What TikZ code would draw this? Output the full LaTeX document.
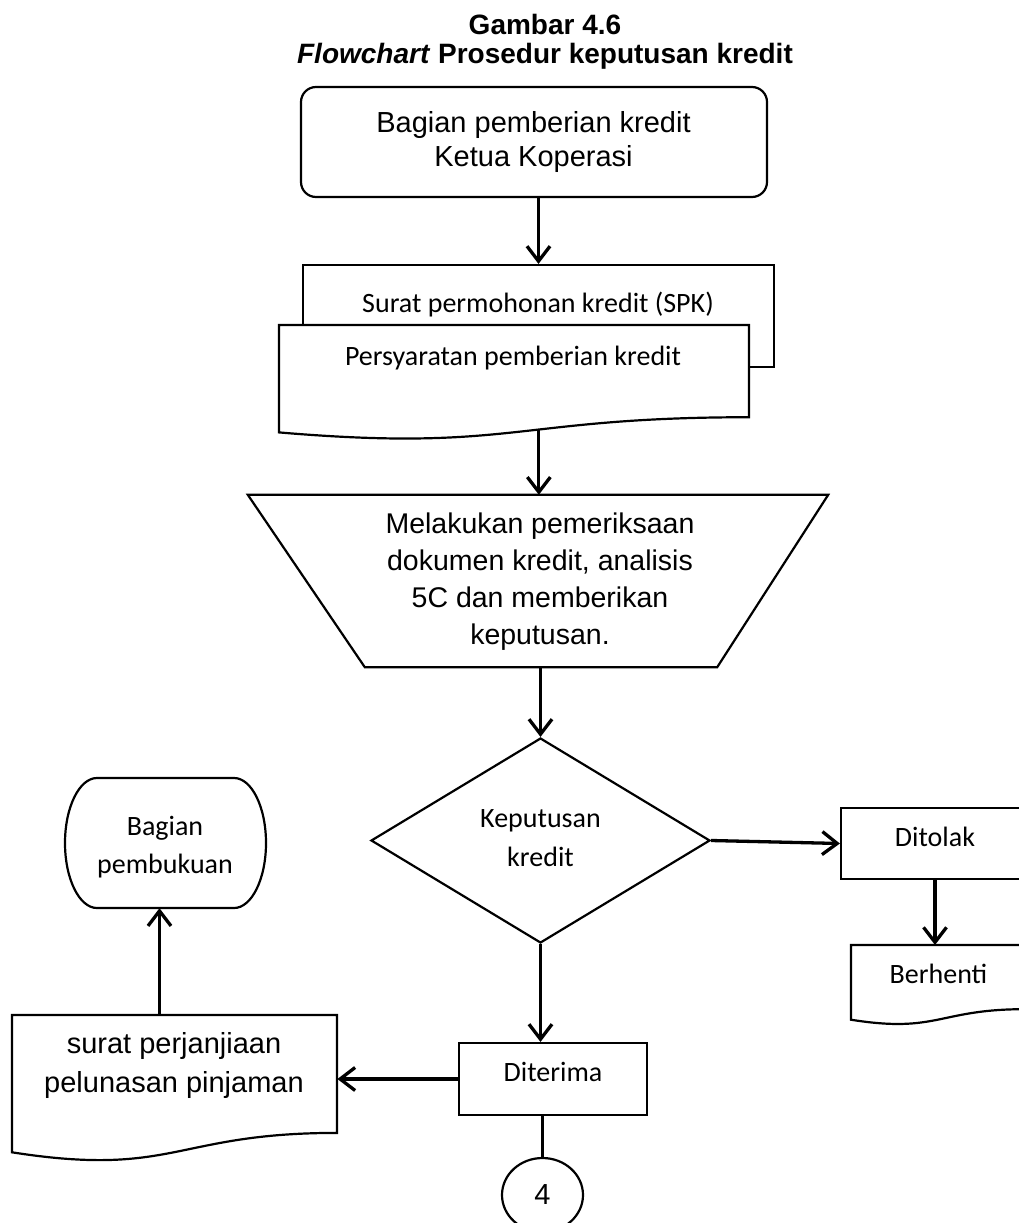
\documentclass[tikz,border=0pt]{standalone}
\usepackage{fontspec}
\setmainfont{Liberation Sans}
\newfontfamily\calibrifont{Carlito}
\usetikzlibrary{arrows.meta,shapes.geometric}

% centred lines whose baseline is the first line
\newcommand\rowstack[1]{\begin{tabular}[t]{@{}c@{}}#1\end{tabular}}

% document symbol: name, left, top, right, height
\newcommand\flowdoc[5]{%
  \node[frame, minimum width={#4-#2}, minimum height={0.802*#5}, anchor=north west] (#1) at (#2,#3) {};
  \draw[shapeline] (#2,#3) -- (#4,#3) -- (#4,{#3+0.802*#5})
    .. controls ({(#2+#4)/2},{#3+0.802*#5}) and ({(#2+#4)/2},{#3+1.107*#5}) .. (#2,{#3+0.934*#5})
    coordinate[pos=0.43] (#1-foot) -- cycle;
}

\tikzset{
  shapeline/.style={line width=2.2pt, draw=black, fill=white},
  frame/.style={rectangle, draw=none, inner sep=0pt},
  flowbox/.style={rectangle, shapeline, inner sep=0pt},
  link/.style={line width=3.3pt, -{Straight Barb[length=15pt,width=23pt]}},
  plainlink/.style={line width=3.8pt},
  textbase/.style={anchor=base, inner sep=0pt},
  titletext/.style={textbase, font=\bfseries\fontsize{28}{26}\selectfont},
  ariatext/.style={textbase, font=\fontsize{29}{34}\selectfont},
  calibritext/.style={textbase, font=\calibrifont\fontsize{28}{38}\selectfont},
}

\begin{document}
\begin{tikzpicture}[x=1pt,y=-1pt]
\useasboundingbox (0,0) rectangle (1019,1223);
\fill[white] (0,0) rectangle (1019,1223);
\clip (0,0) rectangle (1019,1223);

% heading
\node[titletext] (title) at (545,35) {\rowstack{Gambar 4.6\\\textit{Flowchart} Prosedur keputusan kredit}};

% start
\node[flowbox, rounded corners=15pt, minimum width=466pt, minimum height=110pt] (start) at (534,142) {};
\node[ariatext] (starttext) at (533.5,132) {\rowstack{Bagian pemberian kredit\\Ketua Koperasi}};

% stacked documents
\node[flowbox, minimum width=471pt, minimum height=102pt] (spk) at (538.5,316) {};
\node[calibritext] (spktext) at (538,312) {Surat permohonan kredit (SPK)};
\flowdoc{req}{279}{325}{749}{115}
\node[calibritext] (reqtext) at (513,365) {Persyaratan pemberian kredit};

% manual operation
\node[frame, minimum width=580pt, minimum height=172pt] (exam) at (538,581) {};
\draw[shapeline] (exam.north west) -- (exam.north east) -- ([xshift=-111pt]exam.south east) -- ([xshift=117pt]exam.south west) -- cycle;
\node[textbase, font=\fontsize{28.5}{37}\selectfont] (examtext) at (540,533)
  {\rowstack{Melakukan pemeriksaan\\dokumen kredit, analisis\\5C dan memberikan\\keputusan.}};

% decision
\node[diamond, shapeline, inner sep=0pt, minimum width=339pt, minimum height=205pt] (dec) at (540.5,840.5) {};
\node[calibritext, font=\calibrifont\fontsize{28}{39}\selectfont] (dectext) at (540.5,827) {\rowstack{Keputusan\\kredit}};

% rejected branch
\node[flowbox, minimum width=188pt, minimum height=71pt] (rej) at (935,843.5) {};
\node[calibritext] (rejtext) at (935,846) {Ditolak};
\flowdoc{stop}{851}{945}{1025}{80}
\node[calibritext] (stoptext) at (938.5,983) {Berhenti};

% accepted branch
\node[flowbox, minimum width=188pt, minimum height=72pt] (acc) at (553,1079) {};
\node[calibritext] (acctext) at (553,1081) {Diterima};
\flowdoc{agree}{12}{1015}{337}{147}
\node[ariatext, font=\fontsize{29}{39}\selectfont] (agreetext) at (174,1053) {\rowstack{surat perjanjiaan\\pelunasan pinjaman}};

% bookkeeping terminal
\node[frame, minimum width=201pt, minimum height=130pt] (books) at (165.5,843) {};
\draw[shapeline] (97,778) -- (234,778) arc[start angle=-90, end angle=90, x radius=32, y radius=65]
  -- (97,908) arc[start angle=90, end angle=270, x radius=32, y radius=65] -- cycle;
\node[calibritext] (bookstext) at (165,835) {\rowstack{Bagian\\pembukuan}};

% off-page connector
\node[ellipse, shapeline, inner sep=0pt, minimum width=81pt, minimum height=74pt, font=\fontsize{29}{34}\selectfont] (four) at (542.5,1195) {4};

% connectors
\draw[link] (start.south -| spk.north) -- (spk.north);
\draw[link] (req-foot) -- (req-foot |- exam.north);
\draw[link] (dec.north |- exam.south) -- (dec.north);
\draw[link] (dec.east) -- (rej.west);
\draw[link] (rej.south) -- (rej.south |- stop.north);
\draw[link] (dec.south) -- (dec.south |- acc.north);
\draw[link] (acc.west) -- (acc.west -| agree.east);
\draw[plainlink] (four.north |- acc.south) -- (four.north);
\draw[link] ([xshift=-6pt]books.south |- agree.north) -- ([xshift=-6pt]books.south);
\end{tikzpicture}
\end{document}
